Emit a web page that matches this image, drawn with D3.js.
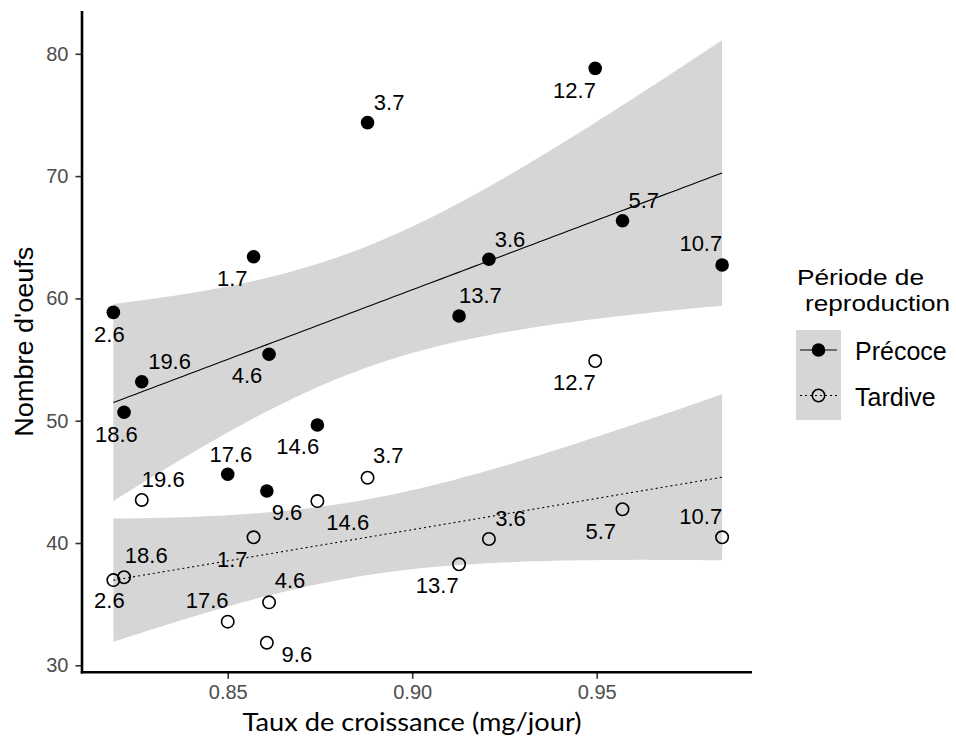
<!DOCTYPE html>
<html>
<head>
<meta charset="utf-8">
<script src="https://cdn.jsdelivr.net/npm/d3@7"></script>
<style>
  html, body { margin: 0; padding: 0; background: #fff; }
  svg { display: block; }
</style>
</head>
<body>
<svg id="chart" width="956" height="738"></svg>
<script>
// ---------------- data ----------------
const fishIds = ["2.6","18.6","19.6","17.6","1.7","9.6","4.6","14.6","3.7","13.7","3.6","12.7","5.7","10.7"];
const growthRate = [0.819,0.8219,0.8267,0.850,0.857,0.8606,0.8612,0.8743,0.8879,0.9127,0.9208,0.9496,0.957,0.984];
const eggsPrecoce = [58.86,50.69,53.19,45.62,63.41,44.25,55.43,49.65,74.37,58.56,63.2,78.81,66.35,62.73];
const eggsTardive = [36.97,37.2,43.52,33.57,40.47,31.85,35.15,43.43,45.34,38.26,40.33,54.88,42.76,40.47];
const seriesNames = ["Précoce","Tardive"];
const xTicks = [0.85, 0.90, 0.95];
const yTicks = [30, 40, 50, 60, 70, 80];

// label placement offsets (pixels, relative to point; text baseline)
const labelOffsetPrecoce = [[-4,29.4],[-7.7,29.4],[27.8,-12.4],[3.2,-12.6],[-21.3,29.3],[20.2,29],[-22,29],[-19.6,29.3],[21.6,-12.7],[21.3,-12.7],[21,-12],[-20.7,30],[21.3,-12.4],[-21.3,-14]];
const labelOffsetTardive = [[-4,28.3],[22.2,-14],[21.5,-13.3],[-20.6,-13.4],[-21.3,29.4],[30,19],[21,-14],[30.4,29],[20.7,-14.4],[-21.8,29],[21.5,-13.3],[-20.8,29],[-21.8,30],[-21.4,-13.3]];

// ---------------- layout ----------------
const panel = {left: 82, right: 752, top: 11, bottom: 672.3};
const svg = d3.select("#chart");
const x = d3.scaleLinear().domain([0.8105, 0.9921]).range([panel.left, panel.right]);
const y = d3.scaleLinear().domain([29.43, 83.5]).range([panel.bottom, panel.top]);

const ribbonFill = "#d6d6d6";
const T_CRIT = 2.178813; // t(0.975, df = 12)

function lmFit(xs, ys) {
  const n = xs.length;
  const mx = d3.mean(xs), my = d3.mean(ys);
  let sxx = 0, sxy = 0;
  for (let i = 0; i < n; i++) { sxx += (xs[i]-mx)**2; sxy += (xs[i]-mx)*(ys[i]-my); }
  const b1 = sxy / sxx, b0 = my - b1*mx;
  let sse = 0;
  for (let i = 0; i < n; i++) sse += (ys[i] - (b0 + b1*xs[i]))**2;
  const s = Math.sqrt(sse / (n - 2));
  const [x0, x1] = d3.extent(xs);
  return d3.range(0, 81).map(k => {
    const xv = x0 + (x1 - x0) * k / 80;
    const fit = b0 + b1*xv;
    const se = s * Math.sqrt(1/n + (xv-mx)**2/sxx);
    return {x: xv, y: fit, lo: fit - T_CRIT*se, hi: fit + T_CRIT*se};
  });
}

const fits = [lmFit(growthRate, eggsPrecoce), lmFit(growthRate, eggsTardive)];

// ribbons
const area = d3.area().x(d => x(d.x)).y0(d => y(d.lo)).y1(d => y(d.hi));
fits.forEach(f => svg.append("path").attr("d", area(f)).attr("fill", ribbonFill));

// lines
const line = d3.line().x(d => x(d.x)).y(d => y(d.y));
svg.append("path").attr("d", line(fits[0])).attr("fill", "none").attr("stroke", "#000").attr("stroke-width", 1.1);
svg.append("path").attr("d", line(fits[1])).attr("fill", "none").attr("stroke", "#000").attr("stroke-width", 1.1)
  .attr("stroke-dasharray", "2,3");

// points
svg.append("g").selectAll("circle").data(growthRate).join("circle")
  .attr("cx", d => x(d)).attr("cy", (d,i) => y(eggsPrecoce[i])).attr("r", 6.8).attr("fill", "#000");
svg.append("g").selectAll("circle").data(growthRate).join("circle")
  .attr("cx", d => x(d)).attr("cy", (d,i) => y(eggsTardive[i])).attr("r", 6.2)
  .attr("fill", "none").attr("stroke", "#000").attr("stroke-width", 1.6);

// point labels
const labelFont = "'Liberation Sans', Arial, sans-serif";
function drawLabels(vals, offs) {
  svg.append("g").selectAll("text").data(fishIds).join("text")
    .attr("x", (d,i) => x(growthRate[i]) + offs[i][0])
    .attr("y", (d,i) => y(vals[i]) + offs[i][1])
    .attr("text-anchor", "middle")
    .attr("font-family", labelFont).attr("font-size", 22).attr("fill", "#000")
    .text(d => d);
}
drawLabels(eggsPrecoce, labelOffsetPrecoce);
drawLabels(eggsTardive, labelOffsetTardive);

// axes
const yAxis = svg.append("g").attr("transform", `translate(${panel.left},0)`)
  .call(d3.axisLeft(y).tickValues(yTicks).tickSize(6.5).tickPadding(7).tickFormat(d3.format("d")));
const xAxis = svg.append("g").attr("transform", `translate(0,${panel.bottom})`)
  .call(d3.axisBottom(x).tickValues(xTicks).tickSize(6.5).tickPadding(6).tickFormat(d3.format(".2f")));
[yAxis, xAxis].forEach(g => {
  g.select(".domain").remove();
  g.selectAll(".tick line").attr("stroke", "#333").attr("stroke-width", 1.6);
  g.selectAll(".tick text").attr("fill", "#4d4d4d").attr("font-family", labelFont).attr("font-size", 20);
});
svg.append("line").attr("x1", panel.left).attr("x2", panel.left).attr("y1", panel.top).attr("y2", panel.bottom + 1.2)
  .attr("stroke", "#000").attr("stroke-width", 2.6);
svg.append("line").attr("x1", panel.left - 1.2).attr("x2", panel.right).attr("y1", panel.bottom).attr("y2", panel.bottom)
  .attr("stroke", "#000").attr("stroke-width", 2.6);

// axis titles
svg.append("text").attr("x", 412).attr("y", 731).attr("text-anchor", "middle")
  .attr("font-family", "Lato, 'Open Sans', sans-serif").attr("font-size", 25).attr("fill", "#000")
  .attr("textLength", 339).attr("lengthAdjust", "spacingAndGlyphs")
  .text("Taux de croissance (mg/jour)");
svg.append("text").attr("transform", `translate(33,${(panel.top+panel.bottom)/2}) rotate(-90)`)
  .attr("text-anchor", "middle").attr("font-family", labelFont).attr("font-size", 26).attr("fill", "#000")
  .attr("textLength", 190).attr("lengthAdjust", "spacingAndGlyphs")
  .text("Nombre d'oeufs");

// legend
const lg = svg.append("g");
lg.append("text").attr("x", 797).attr("y", 285).attr("font-family", labelFont).attr("font-size", 22)
  .attr("textLength", 127).attr("lengthAdjust", "spacingAndGlyphs").text("Période de");
lg.append("text").attr("x", 805).attr("y", 311).attr("font-family", labelFont).attr("font-size", 22)
  .attr("textLength", 145).attr("lengthAdjust", "spacingAndGlyphs").text("reproduction");
lg.append("rect").attr("x", 796).attr("y", 330).attr("width", 45).attr("height", 90).attr("fill", ribbonFill);
const keyY = [350, 395.5];
seriesNames.forEach((name, i) => {
  lg.append("line").attr("x1", 800).attr("x2", 837).attr("y1", keyY[i]).attr("y2", keyY[i])
    .attr("stroke", "#000").attr("stroke-width", 1.1).attr("stroke-dasharray", i === 1 ? "2,3" : null);
  if (i === 0) lg.append("circle").attr("cx", 818.5).attr("cy", keyY[i]).attr("r", 6.8).attr("fill", "#000");
  else lg.append("circle").attr("cx", 818.5).attr("cy", keyY[i]).attr("r", 6.2).attr("fill", "none")
    .attr("stroke", "#000").attr("stroke-width", 1.6);
  lg.append("text").attr("x", 855).attr("y", keyY[i] + 10).attr("font-family", labelFont)
    .attr("font-size", 25).text(name);
});
</script>
</body>
</html>
